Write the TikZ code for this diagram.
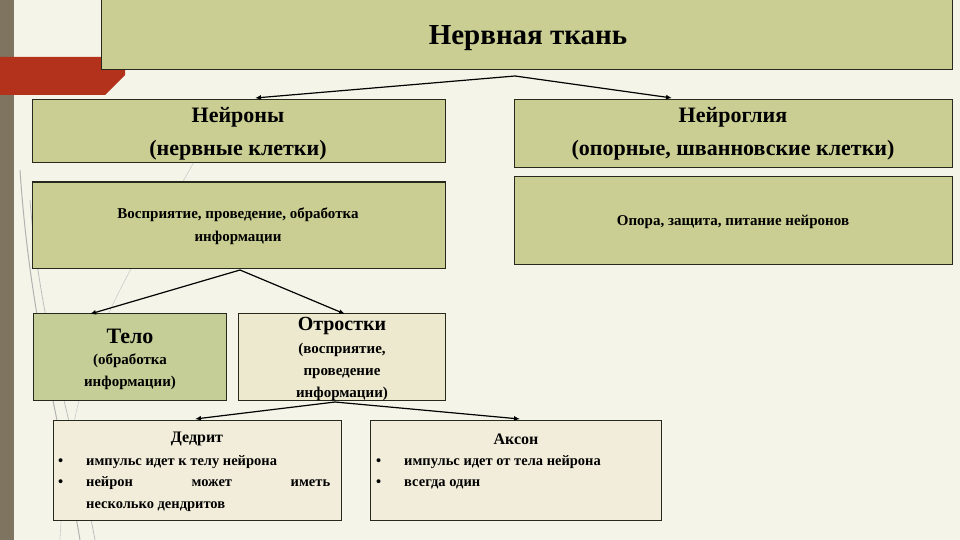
\documentclass[tikz,border=0pt]{standalone}
\usepackage{fontspec}
\setmainfont{Liberation Serif}
\usetikzlibrary{arrows.meta}
\definecolor{bg}{RGB}{244,245,232}
\definecolor{olive}{RGB}{202,206,146}
\definecolor{olived}{RGB}{196,206,150}
\definecolor{pale}{RGB}{236,233,206}
\definecolor{beige}{RGB}{241,237,218}
\definecolor{strip}{RGB}{126,116,96}
\definecolor{redb}{RGB}{178,50,28}
\begin{document}
\begin{tikzpicture}[x=1pt,y=-1pt,
  box/.style={draw=black!80!olive,line width=1pt},
  ar/.style={-{Latex[length=6pt,width=5pt]},line width=1.2pt},
  t/.style={font=\bfseries,align=center,inner sep=0pt}]
\fill[bg] (0,0) rectangle (960,540);
\useasboundingbox (0,0) rectangle (960,540);
% decoration
\fill[strip] (0,0) rectangle (14,540);
\draw[gray!60,line width=1pt] (20,170) .. controls (30,320) and (60,420) .. (80,540);
\draw[gray!50,line width=0.8pt] (30,200) .. controls (40,330) and (75,430) .. (95,540);
\draw[gray!40,line width=0.6pt] (200,150) .. controls (150,250) and (70,320) .. (60,540);
\fill[redb] (0,57) -- (125,57) -- (125,75) -- (105,95) -- (0,95) -- cycle;
% boxes
\draw[box,fill=olive] (101,0) rectangle (952,70);
\node[t,font=\bfseries\fontsize{29}{32}\selectfont] (title) at (528,38) {Нервная ткань};
\draw[box,fill=olive] (32,100) rectangle (445,163);
\node[t,font=\bfseries\fontsize{22}{33}\selectfont] (neu) at (238,134) {Нейроны\\(нервные клетки)};
\draw[box,fill=olive] (514,100) rectangle (952,168);
\node[t,font=\bfseries\fontsize{22}{33}\selectfont] (gli) at (733,134) {Нейроглия\\(опорные, шванновские клетки)};
\draw[box,fill=olive] (32,182) rectangle (445,268);
\node[t,font=\bfseries\fontsize{15}{23}\selectfont] (fn) at (238,226) {Восприятие, проведение, обработка\\информации};
\draw[box,fill=olive] (514,177) rectangle (952,264);
\node[t,font=\bfseries\fontsize{15}{20}\selectfont] (fg) at (733,222) {Опора, защита, питание нейронов};
\draw[box,fill=olived] (33,313) rectangle (226,400);
\node[t,font=\bfseries\fontsize{22}{26}\selectfont] (telo) at (130,336) {Тело};
\node[t,font=\bfseries\fontsize{15}{22}\selectfont] (telo2) at (130,372) {(обработка\\информации)};
\draw[box,fill=pale] (238,313) rectangle (445,400);
\node[t,font=\bfseries\fontsize{20}{24}\selectfont] (otr) at (342,326) {Отростки};
\node[t,font=\bfseries\fontsize{15}{22}\selectfont] (otr2) at (342,372) {(восприятие,\\проведение\\информации)};
\draw[box,fill=beige] (53,420) rectangle (341,520);
\node[t,font=\bfseries\fontsize{16}{20}\selectfont] (den) at (197,439) {Дедрит};
\node[font=\bfseries\fontsize{14.5}{21.5}\selectfont,anchor=north west,inner sep=0pt,text width=272pt,align=justify] (denl) at (58,455)
 {\makebox[28pt][l]{•}импульс идет к телу нейрона\\
  \makebox[28pt][l]{•}нейрон\hfill может\hfill иметь\\
  \hspace*{28pt}несколько дендритов};
\draw[box,fill=beige] (370,420) rectangle (661,520);
\node[t,font=\bfseries\fontsize{16}{20}\selectfont] (ax) at (516,439) {Аксон};
\node[font=\bfseries\fontsize{14.5}{21.5}\selectfont,anchor=north west,inner sep=0pt,align=left] (axl) at (376,455)
 {\makebox[28pt][l]{•}импульс идет от тела нейрона\\
  \makebox[28pt][l]{•}всегда один};
% arrows
\coordinate (a0) at (515,76);
\draw[ar] (a0) -- (255,98);
\draw[ar] (a0) -- (672,98);
\coordinate (a1) at (240,270);
\draw[ar] (a1) -- (90,314);
\draw[ar] (a1) -- (345,314);
\coordinate (a2) at (335,402);
\draw[ar] (a2) -- (195,419);
\draw[ar] (a2) -- (520,419);
\end{tikzpicture}
\end{document}
